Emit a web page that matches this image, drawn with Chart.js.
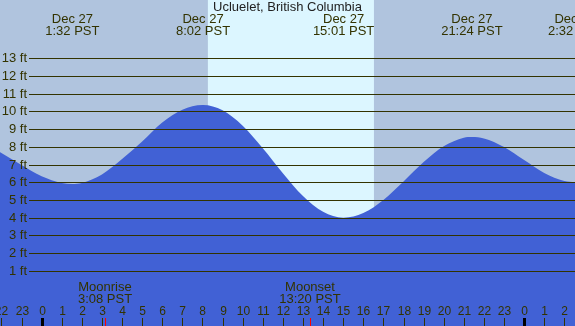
<!DOCTYPE html>
<html>
<head>
<meta charset="utf-8">
<script src="https://cdn.jsdelivr.net/npm/chart.js@4.4.1/dist/chart.umd.min.js"></script>
<style>
  html, body { margin: 0; padding: 0; background: #b0c4de; }
  canvas { display: block; }
</style>
</head>
<body>
<canvas id="tide-chart" width="575" height="326"></canvas>
<script>
// dados da maré (horas a partir da meia-noite de 27 dez, altura em pés)
const tideHours = [-2.07, -2, -1, 0, 1, 1.53, 2, 3, 4, 5, 6, 7, 8, 8.03, 9, 10, 11, 12, 13, 14, 15, 15.02,
  16, 17, 18, 19, 20, 21, 21.4, 22, 23, 24, 25, 26, 26.53];
const tideHeights = [7.69, 7.65, 6.97, 6.34, 5.96, 5.9, 5.96, 6.44, 7.31, 8.3, 9.37, 10.09, 10.36, 10.36, 10.06, 9.19, 7.92, 6.51, 5.22, 4.33, 4.0, 4.0,
  4.26, 5.0, 6.04, 7.14, 8.03, 8.51, 8.55, 8.47, 7.99, 7.25, 6.52, 6.07, 6.0];

// marés altas e baixas (rótulos do topo)
const extremeHours = [1.53, 8.03, 15.02, 21.4, 26.53];
const extremeDates = ['Dec 27', 'Dec 27', 'Dec 27', 'Dec 27', 'Dec 28'];
const extremeTimes = ['1:32 PST', '8:02 PST', '15:01 PST', '21:24 PST', '2:32 PST'];

// nascer e pôr do sol
const sunHours = [8.27, 16.53];

// lua
const moonHours = [3.13, 13.33];
const moonNames = ['Moonrise', 'Moonset'];
const moonTimes = ['3:08 PST', '13:20 PST'];

// eixos
const feetTicks = [1, 2, 3, 4, 5, 6, 7, 8, 9, 10, 11, 12, 13];
const hourTicks = [-2, -1, 0, 1, 2, 3, 4, 5, 6, 7, 8, 9, 10, 11, 12, 13, 14, 15, 16, 17, 18, 19, 20, 21, 22, 23, 24, 25, 26];
const hourLabels = ['22', '23', '0', '1', '2', '3', '4', '5', '6', '7', '8', '9', '10', '11', '12', '13', '14', '15', '16', '17', '18', '19', '20', '21', '22', '23', '0', '1', '2'];

const chartTitle = 'Ucluelet, British Columbia';

const textColor = '#333300';
const font = '"Liberation Sans", Arial, sans-serif';

// fundo: noite e faixa do dia
const backgroundPlugin = {
  id: 'tideBackground',
  beforeDatasetsDraw(chart) {
    const { ctx, chartArea, scales } = chart;
    ctx.save();
    ctx.fillStyle = '#b0c4de';
    ctx.fillRect(chartArea.left, chartArea.top, chartArea.width, chartArea.height);
    const x1 = scales.x.getPixelForValue(sunHours[0]);
    const x2 = scales.x.getPixelForValue(sunHours[1]);
    ctx.fillStyle = '#dcf6ff';
    ctx.fillRect(x1, chartArea.top, x2 - x1, chartArea.height);
    ctx.restore();
  }
};

// linhas de grade, rótulos e marcas por cima da maré
const overlayPlugin = {
  id: 'tideOverlay',
  afterDatasetsDraw(chart) {
    const { ctx, chartArea, scales } = chart;
    const xs = scales.x;
    const ys = scales.y;
    ctx.save();

    // grade horizontal + rótulos em pés
    ctx.strokeStyle = textColor;
    ctx.lineWidth = 1;
    ctx.fillStyle = textColor;
    ctx.font = '13px ' + font;
    ctx.textAlign = 'right';
    ctx.textBaseline = 'middle';
    for (const ft of feetTicks) {
      const y = Math.round(ys.getPixelForValue(ft)) + 0.5;
      ctx.beginPath();
      ctx.moveTo(29, y);
      ctx.lineTo(chartArea.right, y);
      ctx.stroke();
      ctx.fillText(ft + ' ft', 27, y);
    }

    // marcas das horas
    ctx.font = '12px ' + font;
    ctx.textAlign = 'center';
    hourTicks.forEach((h, i) => {
      const x = Math.round(xs.getPixelForValue(h));
      const midnight = h % 24 === 0;
      ctx.fillStyle = midnight ? '#000000' : textColor;
      if (midnight) {
        ctx.fillRect(x - 1, 318, 3, 8);
      } else {
        ctx.fillRect(x, 318, 1, 8);
      }
      ctx.fillStyle = textColor;
      ctx.fillText(hourLabels[i], x + 0.5, 311.5);
    });

    // lua
    ctx.font = '13px ' + font;
    moonHours.forEach((h, i) => {
      const x = Math.round(xs.getPixelForValue(h));
      ctx.fillStyle = '#ff0000';
      ctx.fillRect(x, 318, 1, 8);
      ctx.fillStyle = textColor;
      ctx.fillText(moonNames[i], x, 287.5);
      ctx.fillText(moonTimes[i], x, 299.5);
    });

    // rótulos das marés no topo
    extremeHours.forEach((h, i) => {
      const x = xs.getPixelForValue(h);
      ctx.fillText(extremeDates[i], x, 19.5);
      ctx.fillText(extremeTimes[i], x, 31.5);
    });

    // título
    ctx.fillStyle = '#222222';
    ctx.fillText(chartTitle, (chartArea.left + chartArea.right) / 2, 7.5);

    ctx.restore();
  }
};

const tideCanvas = document.getElementById('tide-chart');

const tideChart = new Chart(tideCanvas, {
  type: 'line',
  data: {
    datasets: [{
      data: tideHours.map((h, i) => ({ x: h, y: tideHeights[i] })),
      fill: 'start',
      backgroundColor: '#4161d5',
      borderWidth: 0,
      pointRadius: 0,
      cubicInterpolationMode: 'monotone',
    }]
  },
  options: {
    responsive: false,
    animation: false,
    layout: { padding: 0 },
    scales: {
      x: { type: 'linear', min: -2.07, max: 26.53, display: false },
      y: { min: -2.12, max: 16.29, display: false },
    },
    plugins: {
      legend: { display: false },
      tooltip: { enabled: false },
    },
  },
  plugins: [backgroundPlugin, overlayPlugin],
});
</script>
</body>
</html>
